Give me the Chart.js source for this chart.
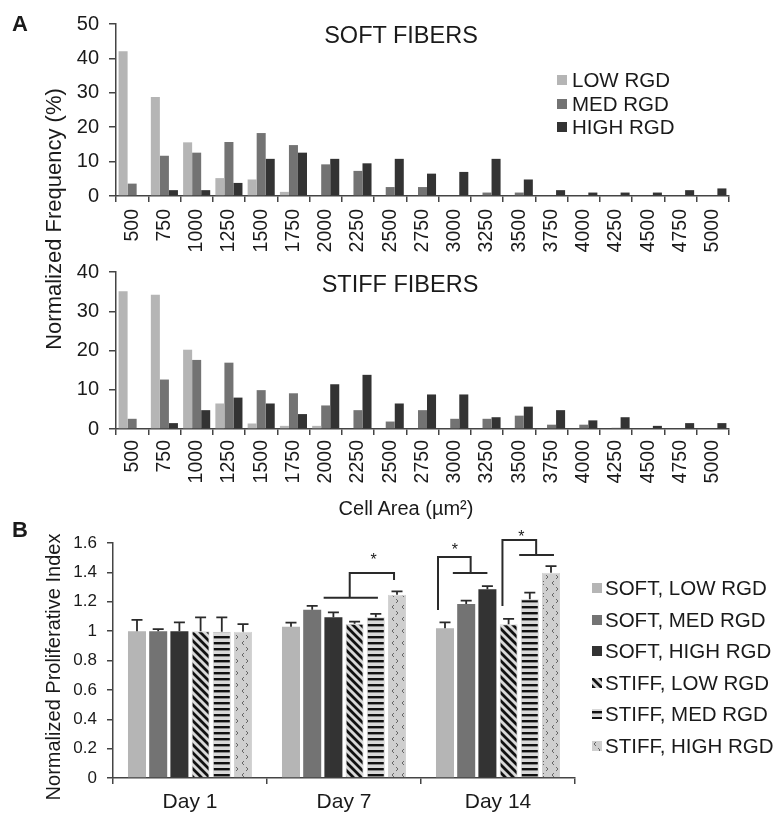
<!DOCTYPE html>
<html>
<head>
<meta charset="utf-8">
<script src="https://cdn.jsdelivr.net/npm/chart.js@4.4.1/dist/chart.umd.min.js"></script>
<style>
  html, body { margin: 0; padding: 0; background: #fff; }
  body { width: 781px; height: 817px; position: relative; overflow: hidden;
         font-family: "Liberation Sans", Arial, sans-serif; color: #1a1a1a; }
  canvas { position: absolute; left: 0; }
  .txt { position: absolute; white-space: nowrap; line-height: 1; transform: translate(-50%, -50%); }
  .rot { transform: translate(-50%, -50%) rotate(-90deg); }
  .leg { position: absolute; white-space: nowrap; line-height: 1; font-size: 20.5px; transform: translateY(-50%); }
  .sw { position: absolute; width: 10px; height: 10px; }
</style>
</head>
<body>
<canvas id="softChart" width="781" height="260" style="top:0"></canvas>
<canvas id="stiffChart" width="781" height="260" style="top:250px"></canvas>
<canvas id="prolifChart" width="781" height="297" style="top:520px"></canvas>

<div class="txt" style="left:20px;top:24px;font-size:22px;font-weight:bold">A</div>
<div class="txt" style="left:20px;top:530px;font-size:22px;font-weight:bold">B</div>
<div class="txt" style="left:401px;top:36px;font-size:23.5px">SOFT FIBERS</div>
<div class="txt" style="left:400px;top:285px;font-size:23.5px">STIFF FIBERS</div>
<div class="txt rot" style="left:54px;top:219px;font-size:22px">Normalized Frequency (%)</div>
<div class="txt" style="left:406px;top:508px;font-size:20px">Cell Area (µm²)</div>
<div class="txt rot" style="left:53px;top:667px;font-size:20px">Normalized Proliferative Index</div>
<div id="legendTop"></div>
<div id="legendBottom"></div>

<script>
// ---- data: histogram of cell area (panel A) ----
const areaBins = ['500', '750', '1000', '1250', '1500', '1750', '2000', '2250', '2500', '2750',
                  '3000', '3250', '3500', '3750', '4000', '4250', '4500', '4750', '5000'];
const softLow  = [42.1, 28.8, 15.6, 5.2, 4.8, 1.2, 0, 0, 0, 0, 0, 0, 0, 0, 0, 0, 0, 0, 0];
const softMed  = [3.6, 11.7, 12.6, 15.7, 18.3, 14.8, 9.2, 7.3, 2.6, 2.6, 0, 1.0, 1.0, 0, 0, 0, 0, 0, 0];
const softHigh = [0, 1.7, 1.7, 3.8, 10.8, 12.6, 10.8, 9.5, 10.8, 6.5, 7.0, 10.8, 4.8, 1.7, 1.0, 1.0, 1.0, 1.7, 2.2];
const stiffLow  = [35.1, 34.2, 20.2, 6.5, 1.4, 0.8, 0.8, 0, 0, 0, 0, 0, 0, 0, 0, 0, 0, 0, 0];
const stiffMed  = [2.6, 12.6, 17.6, 16.9, 9.9, 9.1, 6.0, 4.8, 1.9, 4.8, 2.6, 2.6, 3.4, 1.1, 1.1, 0.3, 0, 0, 0];
const stiffHigh = [0, 1.5, 4.8, 8.0, 6.5, 3.8, 11.4, 13.8, 6.5, 8.8, 8.8, 3.0, 5.7, 4.8, 2.2, 3.0, 0.8, 1.5, 1.5];
const rgdLabels = ['LOW RGD', 'MED RGD', 'HIGH RGD'];

// ---- data: proliferative index (panel B) ----
const days = ['Day 1', 'Day 7', 'Day 14'];
const groupLabels = ['SOFT, LOW RGD', 'SOFT, MED RGD', 'SOFT, HIGH RGD',
                     'STIFF, LOW RGD', 'STIFF, MED RGD', 'STIFF, HIGH RGD'];
const piSoftLow   = [1.0, 1.03, 1.02];
const piSoftMed   = [1.0, 1.145, 1.185];
const piSoftHigh  = [1.0, 1.095, 1.285];
const piStiffLow  = [1.0, 1.05, 1.046];
const piStiffMed  = [0.995, 1.095, 1.217];
const piStiffHigh = [0.995, 1.247, 1.398];
const errSoftLow   = [0.077, 0.028, 0.039];
const errSoftMed   = [0.013, 0.027, 0.022];
const errSoftHigh  = [0.059, 0.032, 0.022];
const errStiffLow  = [0.093, 0.015, 0.037];
const errStiffMed  = [0.098, 0.022, 0.045];
const errStiffHigh = [0.052, 0.023, 0.045];

// significance brackets: [bar slot within the day group, value]
const brackets = [
  { day: 1, lines: [[[1.54, 1.228], [4.1, 1.228]],
                    [[2.77, 1.228], [2.77, 1.396], [4.86, 1.396], [4.86, 1.348]]], star: [3.9, 1.50] },
  { day: 2, lines: [[[-0.33, 1.144], [-0.33, 1.505], [1.21, 1.505], [1.21, 1.396]],
                    [[0.37, 1.396], [2.0, 1.396]]], star: [0.47, 1.566] },
  { day: 2, lines: [[[2.71, 1.171], [2.71, 1.62], [4.3, 1.62], [4.3, 1.518]],
                    [[3.5, 1.518], [5.14, 1.518]]], star: [3.6, 1.654] }
];

const FONT = '"Liberation Sans", Arial, sans-serif';
const INK = '#1a1a1a';
const AXIS = '#444';
Chart.defaults.font.family = FONT;
Chart.defaults.color = INK;

const greys = ['#b5b5b5', '#737373', '#333333'];

// small tiles for the hatched STIFF bars
function makeTile(kind) {
  const c = document.createElement('canvas');
  const ctx = c.getContext('2d');
  if (kind === 'diag') {
    c.width = 8; c.height = 8;
    ctx.fillStyle = '#d8d8d8'; ctx.fillRect(0, 0, 8, 8);
    ctx.strokeStyle = '#111'; ctx.lineWidth = 2.8;
    ctx.beginPath();
    ctx.moveTo(-1, -1); ctx.lineTo(9, 9);
    ctx.moveTo(7, -1); ctx.lineTo(9, 1);
    ctx.moveTo(-1, 7); ctx.lineTo(1, 9);
    ctx.stroke();
  } else if (kind === 'horiz') {
    c.width = 6; c.height = 6;
    ctx.fillStyle = '#d8d8d8'; ctx.fillRect(0, 0, 6, 6);
    ctx.fillStyle = '#111'; ctx.fillRect(0, 2, 6, 2.4);
  } else {
    c.width = 10; c.height = 12;
    ctx.fillStyle = '#cfcfcf'; ctx.fillRect(0, 0, 10, 12);
    ctx.strokeStyle = '#666'; ctx.lineWidth = 1;
    ctx.beginPath();
    ctx.moveTo(4, 1); ctx.lineTo(2, 3); ctx.lineTo(4, 5);
    ctx.moveTo(6, 7); ctx.lineTo(8, 9); ctx.lineTo(6, 11);
    ctx.stroke();
  }
  return c;
}
const tiles = { diag: makeTile('diag'), horiz: makeTile('horiz'), dots: makeTile('dots') };
const patCtx = document.createElement('canvas').getContext('2d');
const pattern = k => patCtx.createPattern(tiles[k], 'repeat');

function histOptions(yMax, padTop, xHeight, labelPad) {
  return {
    responsive: false,
    animation: false,
    layout: { padding: { top: padTop, right: 52, left: 0, bottom: 0 } },
    plugins: { legend: { display: false }, tooltip: { enabled: false } },
    scales: {
      x: {
        grid: { drawOnChartArea: false, color: AXIS, lineWidth: 1.5, tickLength: 6 },
        border: { color: AXIS, width: 1.5 },
        ticks: { autoSkip: false, minRotation: 90, maxRotation: 90, padding: labelPad,
                 font: { size: 19.5 }, color: INK },
        afterFit: s => { s.height = xHeight; }
      },
      y: {
        min: 0, max: yMax,
        grid: { drawOnChartArea: false, color: AXIS, lineWidth: 1.5, tickLength: 7 },
        border: { color: AXIS, width: 1.5 },
        ticks: { stepSize: 10, padding: 10, font: { size: 20 }, color: INK },
        afterFit: s => { s.width = 116; }
      }
    }
  };
}

function histData(series) {
  return {
    labels: areaBins,
    datasets: series.map((d, k) => ({
      label: rgdLabels[k],
      data: d,
      backgroundColor: greys[k],
      categoryPercentage: 0.84,
      barPercentage: 1.0
    }))
  };
}

new Chart(document.getElementById('softChart'), {
  type: 'bar',
  data: histData([softLow, softMed, softHigh]),
  options: histOptions(50, 24, 64, 7)
});

new Chart(document.getElementById('stiffChart'), {
  type: 'bar',
  data: histData([stiffLow, stiffMed, stiffHigh]),
  options: histOptions(40, 22, 81, 5)
});

// error bars + significance brackets for panel B
const annotationPlugin = {
  id: 'annotations',
  afterDatasetsDraw(chart) {
    const ctx = chart.ctx;
    const y = chart.scales.y;
    ctx.save();
    ctx.strokeStyle = '#2a2a2a';
    ctx.lineWidth = 1.8;
    chart.data.datasets.forEach((ds, d) => {
      chart.getDatasetMeta(d).data.forEach((bar, i) => {
        const top = y.getPixelForValue(ds.data[i] + ds.errors[i]);
        ctx.beginPath();
        ctx.moveTo(bar.x, bar.y);
        ctx.lineTo(bar.x, top);
        ctx.moveTo(bar.x - 5.5, top);
        ctx.lineTo(bar.x + 5.5, top);
        ctx.stroke();
      });
    });

    const m0 = chart.getDatasetMeta(0).data;
    const m1 = chart.getDatasetMeta(1).data;
    const px = (day, pos) => m0[day].x + pos * (m1[day].x - m0[day].x);
    ctx.lineWidth = 2;
    ctx.fillStyle = INK;
    ctx.font = '16px ' + FONT;
    ctx.textAlign = 'center';
    ctx.textBaseline = 'middle';
    brackets.forEach(b => {
      b.lines.forEach(line => {
        ctx.beginPath();
        line.forEach(([pos, v], j) => {
          const X = px(b.day, pos), Y = y.getPixelForValue(v);
          if (j === 0) ctx.moveTo(X, Y); else ctx.lineTo(X, Y);
        });
        ctx.stroke();
      });
      ctx.fillText('*', px(b.day, b.star[0]), y.getPixelForValue(b.star[1]) + 3);
    });
    ctx.restore();
  }
};

const piFills = [greys[0], greys[1], greys[2], pattern('diag'), pattern('horiz'), pattern('dots')];
const piSeries = [piSoftLow, piSoftMed, piSoftHigh, piStiffLow, piStiffMed, piStiffHigh];
const piErrors = [errSoftLow, errSoftMed, errSoftHigh, errStiffLow, errStiffMed, errStiffHigh];

new Chart(document.getElementById('prolifChart'), {
  type: 'bar',
  data: {
    labels: days,
    datasets: piSeries.map((d, k) => ({
      label: groupLabels[k],
      data: d,
      errors: piErrors[k],
      backgroundColor: piFills[k],
      borderColor: k > 2 ? '#d4d4d4' : greys[k],
      borderWidth: k > 2 ? 1 : 0,
      categoryPercentage: 0.826,
      barPercentage: 0.85
    }))
  },
  options: {
    responsive: false,
    animation: false,
    layout: { padding: { top: 23, right: 206, left: 0, bottom: 0 } },
    plugins: { legend: { display: false }, tooltip: { enabled: false } },
    scales: {
      x: {
        grid: { drawOnChartArea: false, color: AXIS, lineWidth: 1.5, tickLength: 6 },
        border: { color: AXIS, width: 1.5 },
        ticks: { padding: 6, font: { size: 21 }, color: INK },
        afterFit: s => { s.height = 39; }
      },
      y: {
        min: 0, max: 1.6,
        grid: { drawOnChartArea: false, color: AXIS, lineWidth: 1.5, tickLength: 6 },
        border: { color: AXIS, width: 1.5 },
        ticks: { stepSize: 0.2, padding: 10, font: { size: 17 }, color: INK,
                 callback: v => String(Math.round(v * 10) / 10) },
        afterFit: s => { s.width = 113; }
      }
    }
  },
  plugins: [annotationPlugin]
});

// ---- HTML legends ----
function addLegend(holder, labels, fills, boxX, textX, y0, step) {
  const el = document.getElementById(holder);
  labels.forEach((lab, k) => {
    const cy = y0 + k * step;
    const sw = document.createElement('canvas');
    sw.width = 10; sw.height = 10;
    sw.className = 'sw';
    sw.style.left = boxX + 'px';
    sw.style.top = (cy - 5) + 'px';
    const c = sw.getContext('2d');
    c.fillStyle = typeof fills[k] === 'string' ? fills[k] : c.createPattern(fills[k], 'repeat');
    c.fillRect(0, 0, 10, 10);
    el.appendChild(sw);
    const t = document.createElement('div');
    t.className = 'leg';
    t.style.left = textX + 'px';
    t.style.top = cy + 'px';
    t.textContent = lab;
    el.appendChild(t);
  });
}
addLegend('legendTop', rgdLabels, greys, 557, 572, 80, 23.5);
addLegend('legendBottom', groupLabels,
          [greys[0], greys[1], greys[2], tiles.diag, tiles.horiz, tiles.dots],
          592, 605, 588, 31.6);
</script>
</body>
</html>
